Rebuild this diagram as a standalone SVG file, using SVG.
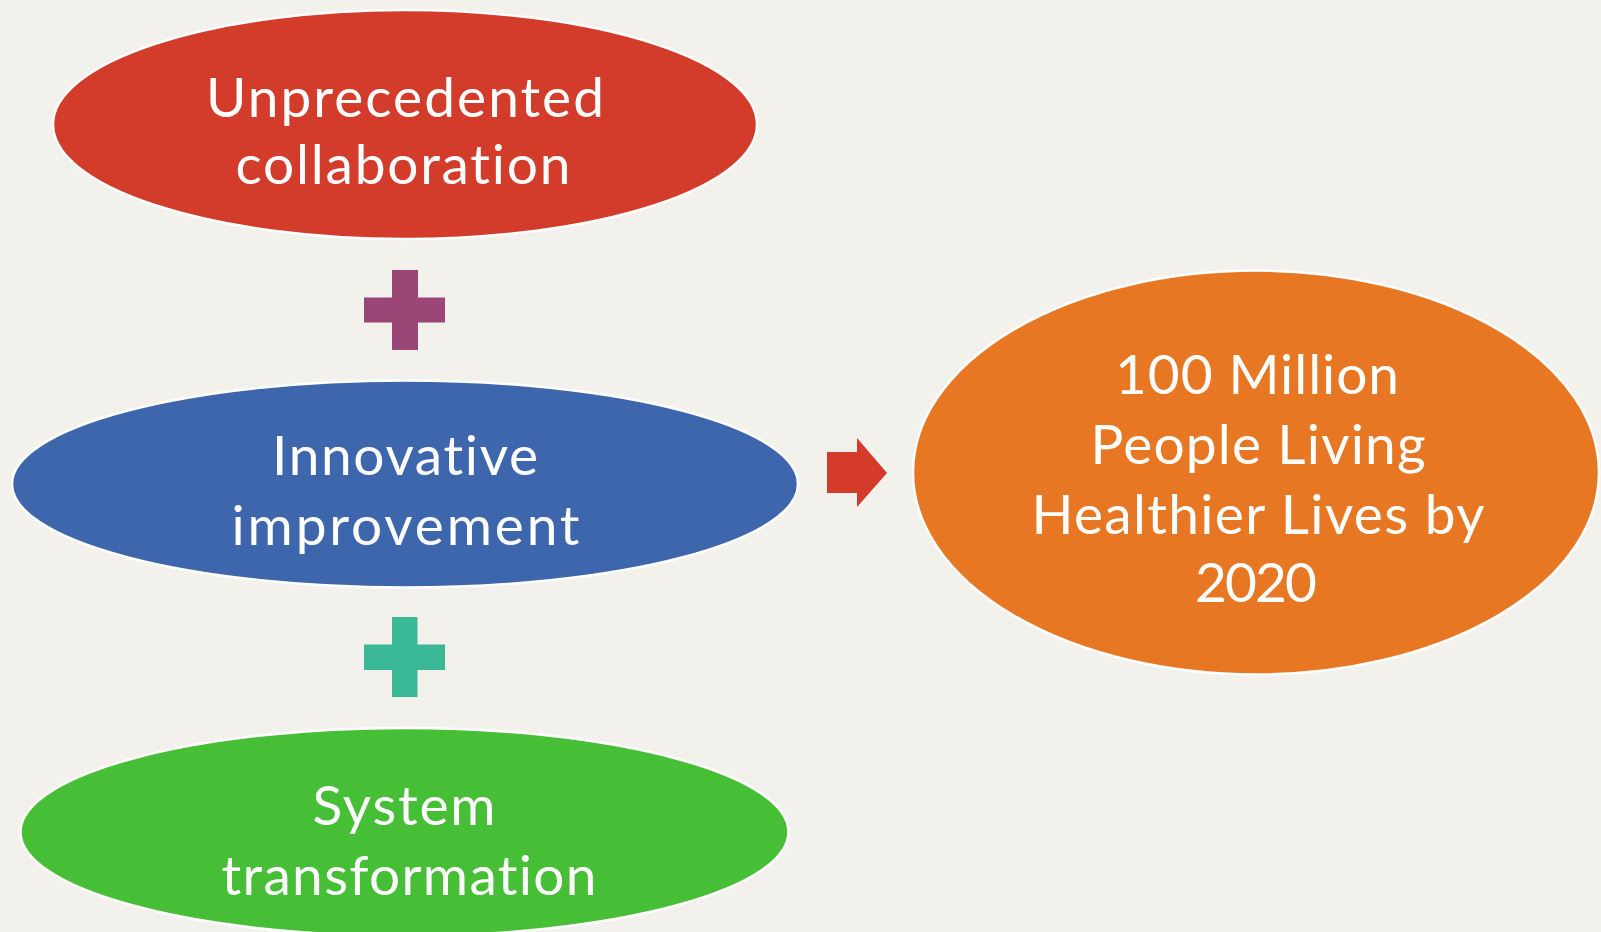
<svg xmlns="http://www.w3.org/2000/svg" width="1601" height="932" viewBox="0 0 1601 932">
<style>
.node ellipse{stroke:#ffffff;stroke-width:2.5}
.lbl{font-family:Lato,"Open Sans","Liberation Sans",sans-serif;font-size:55px;fill:#ffffff;text-anchor:middle;font-variant-ligatures:none;font-feature-settings:"liga" 0,"clig" 0,"dlig" 0}
</style>
<rect x="0" y="0" width="1601" height="932" fill="#F2F1EC"/>
<g id="node-collaboration" class="node">
<ellipse cx="405" cy="124.5" rx="352" ry="114.5" fill="#D33B2B"/>
<text class="lbl" x="405" y="116.5" textLength="398" lengthAdjust="spacing">Unprecedented</text>
<text class="lbl" x="403" y="183.5" textLength="335" lengthAdjust="spacing">collaboration</text>
</g>
<g id="node-improvement" class="node">
<ellipse cx="405" cy="484" rx="393" ry="103.5" fill="#3E66AC"/>
<text class="lbl" x="405" y="475" textLength="266" lengthAdjust="spacing">Innovative</text>
<text class="lbl" x="405.5" y="545" textLength="348" lengthAdjust="spacing">improvement</text>
</g>
<g id="node-transformation" class="node">
<ellipse cx="404.5" cy="832" rx="384" ry="104" fill="#46BE36"/>
<text class="lbl" x="404" y="825" textLength="183" lengthAdjust="spacing">System</text>
<text class="lbl" x="409" y="895" textLength="375" lengthAdjust="spacing">transformation</text>
</g>
<g id="node-goal" class="node">
<ellipse cx="1256" cy="472.5" rx="343" ry="202" fill="#E77723"/>
<text class="lbl" x="1257" y="394" textLength="284" lengthAdjust="spacing">100 Million</text>
<text class="lbl" x="1258" y="463.5" textLength="335" lengthAdjust="spacing">People Living</text>
<text class="lbl" x="1258" y="534" textLength="453" lengthAdjust="spacing">Healthier Lives by</text>
<text class="lbl" x="1256" y="602" textLength="122" lengthAdjust="spacing">2020</text>
</g>
<g id="connectors">
<path id="plus-1" d="M392 270H418V297.5H445V322.5H418V350H392V322.5H364V297.5H392Z" fill="#9A4677"/>
<path id="plus-2" d="M392 617H417.5V644.5H445V670H417.5V697H392V670H364V644.5H392Z" fill="#3BB896"/>
<polygon id="arrow" points="827,452 857,452 857,438 887,473 857,507 857,493 827,493" fill="#D43B2B"/>
</g>
</svg>
